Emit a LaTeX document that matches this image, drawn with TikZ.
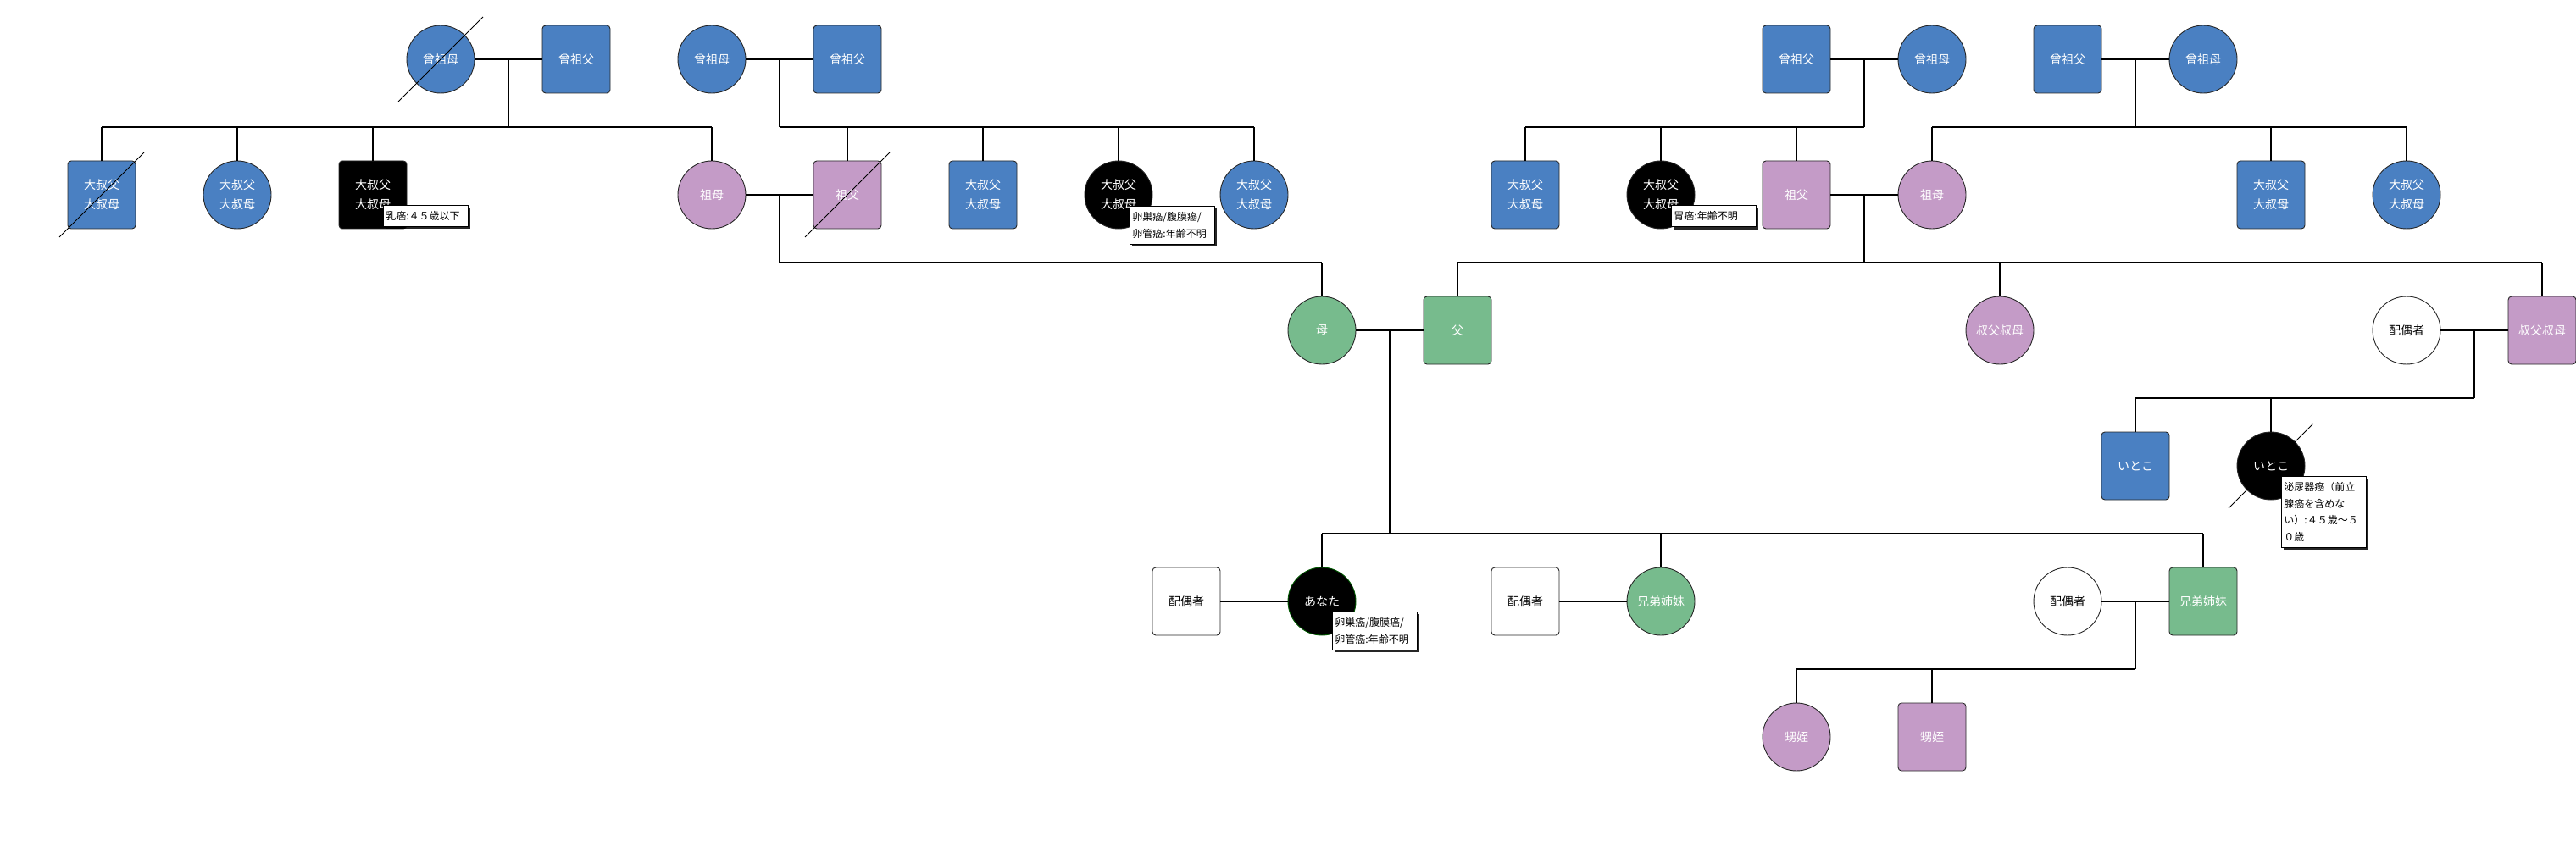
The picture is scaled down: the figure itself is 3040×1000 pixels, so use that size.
\documentclass[tikz,border=0pt]{standalone}
\usepackage{fontspec}
\newfontfamily\jp{Noto Sans CJK JP}
\usetikzlibrary{shadows}
\definecolor{pblue}{HTML}{4A80C2}
\definecolor{ppink}{HTML}{C49BC7}
\definecolor{pgreen}{HTML}{77BB8D}
\begin{document}
\begin{tikzpicture}[x=1pt,y=-1pt,
  person/.style={minimum width=80pt, minimum height=80pt, inner sep=0pt, draw=black!85,
    line width=0.9pt, font=\jp\fontsize{14}{23}\selectfont, text=white, align=center},
  male/.style={person, rectangle, rounded corners=4pt},
  female/.style={person, circle, minimum size=80pt},
  cblue/.style={fill=pblue},
  cpink/.style={fill=ppink},
  cgreen/.style={fill=pgreen},
  cblack/.style={fill=black},
  cwhite/.style={fill=white, text=black},
  link/.style={line width=1.1pt, draw=black},
  deadline/.style={line width=1pt, draw=black},
  note/.style={draw=black, fill=white, line width=0.8pt, font=\jp\fontsize{12}{19.5}\selectfont,
    text=black, align=left, text width=94pt, inner xsep=3pt, inner ysep=7pt, anchor=north west,
    drop shadow={shadow xshift=3pt, shadow yshift=-3pt, fill=black, opacity=0.85}}
]
\fill[white] (0,0) rectangle (3040,1000);
\useasboundingbox (0,0) rectangle (3040,1000);

% Row 1
\node[female,cblue] (g1) at (520,70) {曾祖母};
\node[male,cblue]   (g2) at (680,70) {曾祖父};
\node[female,cblue] (g3) at (840,70) {曾祖母};
\node[male,cblue]   (g4) at (1000,70) {曾祖父};
\node[male,cblue]   (g5) at (2120,70) {曾祖父};
\node[female,cblue] (g6) at (2280,70) {曾祖母};
\node[male,cblue]   (g7) at (2440,70) {曾祖父};
\node[female,cblue] (g8) at (2600,70) {曾祖母};

% Row 2
\node[male,cblue]    (a1) at (120,230) {大叔父\\大叔母};
\node[female,cblue]  (a2) at (280,230) {大叔父\\大叔母};
\node[male,cblack]   (a3) at (440,230) {大叔父\\大叔母};
\node[female,cpink]  (gm1) at (840,230) {祖母};
\node[male,cpink]    (gf1) at (1000,230) {祖父};
\node[male,cblue]    (a4) at (1160,230) {大叔父\\大叔母};
\node[female,cblack] (a5) at (1320,230) {大叔父\\大叔母};
\node[female,cblue]  (a6) at (1480,230) {大叔父\\大叔母};
\node[male,cblue]    (a7) at (1800,230) {大叔父\\大叔母};
\node[female,cblack] (a8) at (1960,230) {大叔父\\大叔母};
\node[male,cpink]    (gf2) at (2120,230) {祖父};
\node[female,cpink]  (gm2) at (2280,230) {祖母};
\node[male,cblue]    (a9) at (2680,230) {大叔父\\大叔母};
\node[female,cblue]  (a10) at (2840,230) {大叔父\\大叔母};

% Row 3
\node[female,cgreen] (mo) at (1560,390) {母};
\node[male,cgreen]   (fa) at (1720,390) {父};
\node[female,cpink]  (u1) at (2360,390) {叔父叔母};
\node[female,cwhite] (us) at (2840,390) {配偶者};
\node[male,cpink]    (u2) at (3000,390) {叔父叔母};

% Cousins
\node[male,cblue]    (c1) at (2520,550) {いとこ};
\node[female,cblack] (c2) at (2680,550) {いとこ};

% Row 4
\node[male,cwhite]   (sp1) at (1400,710) {配偶者};
\node[female,cblack,draw=green!35!black] (me) at (1560,710) {あなた};
\node[male,cwhite]   (sp2) at (1800,710) {配偶者};
\node[female,cgreen] (s1) at (1960,710) {兄弟姉妹};
\node[female,cwhite] (sp3) at (2440,710) {配偶者};
\node[male,cgreen]   (s2) at (2600,710) {兄弟姉妹};

% Row 5
\node[female,cpink] (n1) at (2120,870) {甥姪};
\node[male,cpink]   (n2) at (2280,870) {甥姪};

% marriages and drops
\draw[link] (g1.east) -- (g2.west);
\draw[link] (g3.east) -- (g4.west);
\draw[link] (g5.east) -- (g6.west);
\draw[link] (g7.east) -- (g8.west);
\draw[link] (gm1.east) -- (gf1.west);
\draw[link] (gf2.east) -- (gm2.west);
\draw[link] (mo.east) -- (fa.west);
\draw[link] (us.east) -- (u2.west);
\draw[link] (sp1.east) -- (me.west);
\draw[link] (sp2.east) -- (s1.west);
\draw[link] (sp3.east) -- (s2.west);

\coordinate (m1) at (600,70);   \coordinate (b1) at (600,150);
\coordinate (m2) at (920,70);   \coordinate (b2) at (920,150);
\coordinate (m3) at (2200,70);  \coordinate (b3) at (2200,150);
\coordinate (m4) at (2520,70);  \coordinate (b4) at (2520,150);
\coordinate (m5) at (920,230);  \coordinate (b5) at (920,310);
\coordinate (m6) at (2200,230); \coordinate (b6) at (2200,310);
\coordinate (m7) at (1640,390); \coordinate (b7) at (1640,630);
\coordinate (m8) at (2920,390); \coordinate (b8) at (2920,470);
\coordinate (m9) at (2520,710); \coordinate (b9) at (2520,790);

\foreach \m/\b in {m1/b1,m2/b2,m3/b3,m4/b4,m5/b5,m6/b6,m7/b7,m8/b8,m9/b9}
  \draw[link] (\m) -- (\b);

% sibship bars
\draw[link] (a1.north |- b1) -- (gm1.north |- b1);
\draw[link] (b2) -- (a6.north |- b2);
\draw[link] (a7.north |- b3) -- (b3);
\draw[link] (gm2.north |- b4) -- (a10.north |- b4);
\draw[link] (b5) -- (mo.north |- b5);
\draw[link] (fa.north |- b6) -- (u2.north |- b6);
\draw[link] (me.north |- b7) -- (s2.north |- b7);
\draw[link] (c1.north |- b8) -- (b8);
\draw[link] (n1.north |- b9) -- (b9);

\foreach \c/\b in {a1/b1,a2/b1,a3/b1,gm1/b1,gf1/b2,a4/b2,a5/b2,a6/b2,a7/b3,a8/b3,gf2/b3,
                   gm2/b4,a9/b4,a10/b4,mo/b5,fa/b6,u1/b6,u2/b6,me/b7,s1/b7,s2/b7,c1/b8,c2/b8,n1/b9,n2/b9}
  \draw[link] (\c.north) -- (\c.north |- \b);

% notes
\node[note] (t1) at ([shift={(12,12)}]a3.center) {乳癌:４５歳以下};
\node[note] (t2) at ([shift={(13,13)}]a5.center) {卵巣癌/腹膜癌/\\卵管癌:年齢不明};
\node[note] (t3) at ([shift={(12,12)}]a8.center) {胃癌:年齢不明};
\node[note] (t4) at ([shift={(12,12)}]me.center) {卵巣癌/腹膜癌/\\卵管癌:年齢不明};
\node[note] (t5) at ([shift={(12,12)}]c2.center) {泌尿器癌（前立\\腺癌を含めな\\い）:４５歳～５\\０歳};

% deceased slashes
\foreach \n in {g1,a1,gf1,c2}
  \draw[deadline] ([shift={(-50,50)}]\n.center) -- ([shift={(50,-50)}]\n.center);
\end{tikzpicture}
\end{document}
